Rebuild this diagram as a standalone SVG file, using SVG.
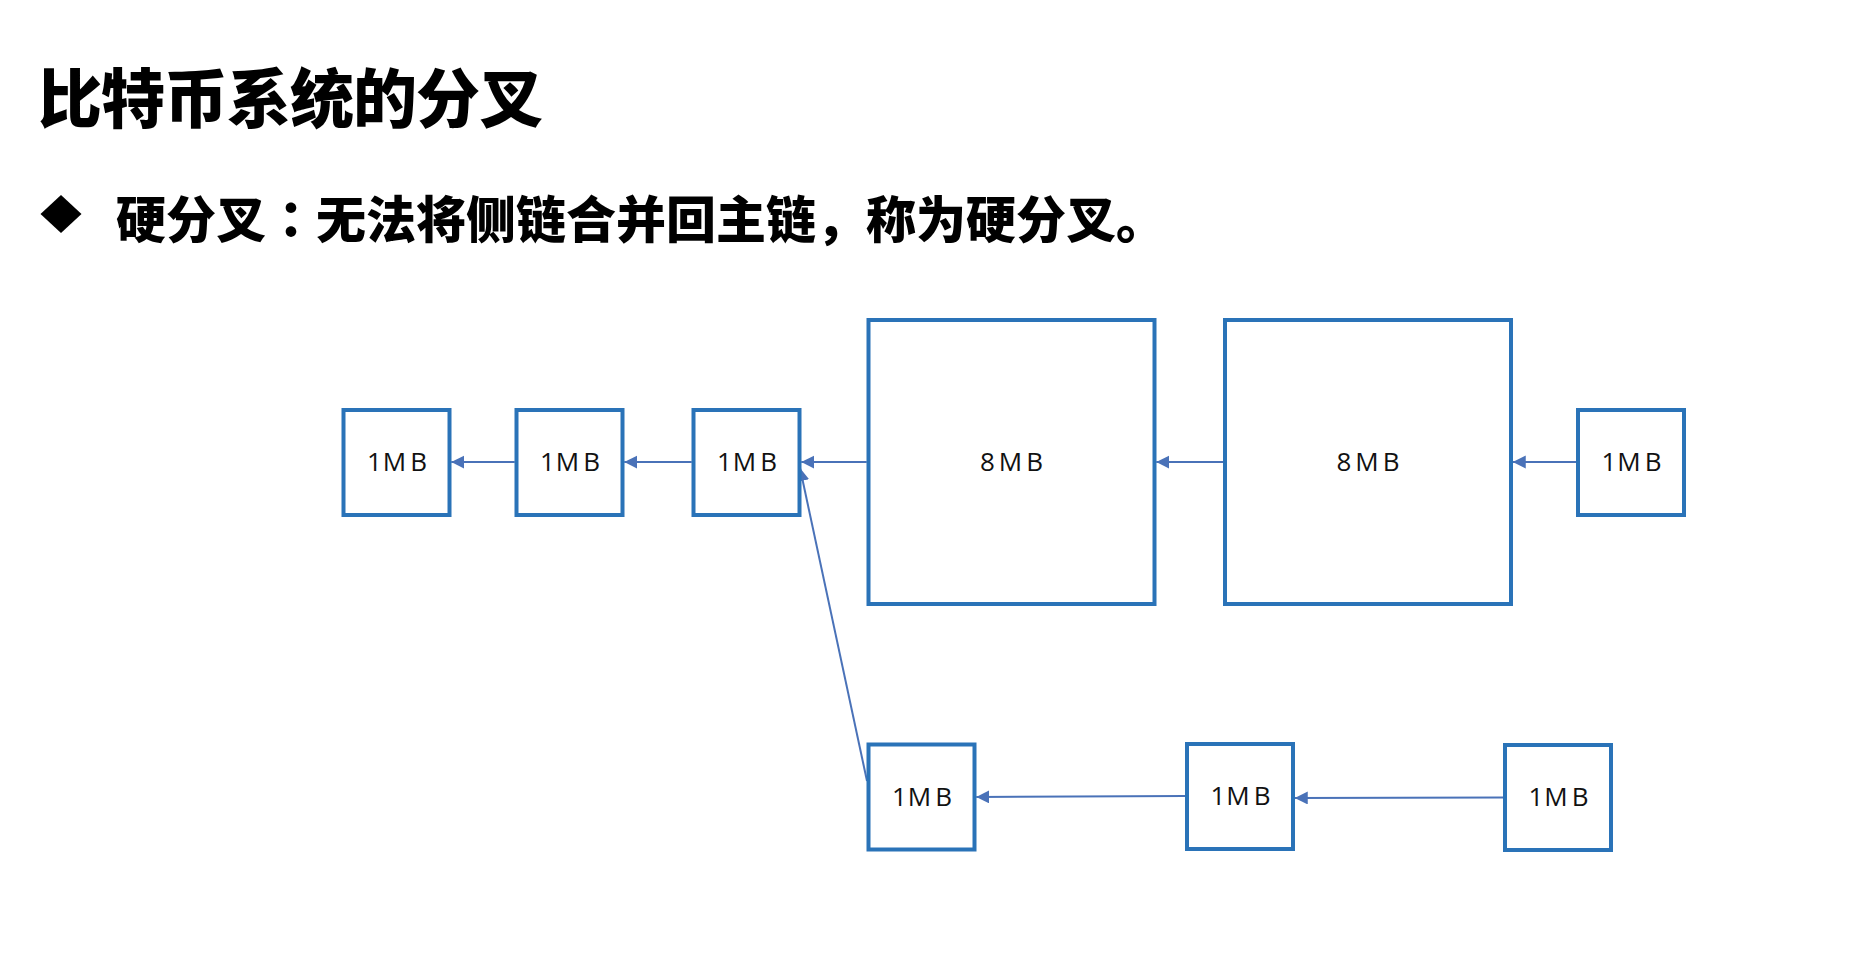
<svg xmlns="http://www.w3.org/2000/svg" width="1858" height="972" viewBox="0 0 1858 972">
  <style>
    .box { fill: #ffffff; stroke: #2a73b8; stroke-width: 4; }
    .lbl { font-family: "Open Sans", "Noto Sans", sans-serif; font-size: 26px; fill: #111111; text-anchor: middle; letter-spacing: 1px; }
    .big { letter-spacing: 4px; }
    .conn { stroke: #4a72b8; stroke-width: 2; fill: none; marker-end: url(#arr); }
    .title { font-family: "Noto Sans CJK SC", "Noto Sans", sans-serif; font-weight: 900; fill: #000000; }
  </style>
  <defs>
    <marker id="arr" markerUnits="userSpaceOnUse" markerWidth="14" markerHeight="14" refX="13" refY="6.5" orient="auto">
      <path d="M0,0 L13,6.5 L0,13 Z" fill="#4a72b8"/>
    </marker>
  </defs>
  <rect width="1858" height="972" fill="#ffffff"/>

  <g id="title">
    <text class="title" x="38" y="122" font-size="64" letter-spacing="-1">比特币系统的分叉</text>
  </g>
  <g id="subtitle">
    <path d="M61,195 L81.5,214 L61,233 L40.5,214 Z" fill="#000000"/>
    <text class="title" x="116" y="238" font-size="50" font-weight="700">硬分叉<tspan font-family="Noto Sans CJK TC, sans-serif">：</tspan>无法将侧链合并回主链，称为硬分叉。</text>
  </g>

  <g id="connectors">
    <line class="conn" x1="514.75" y1="462" x2="451.25" y2="462"/>
    <line class="conn" x1="691.75" y1="462" x2="624.25" y2="462"/>
    <line class="conn" x1="866.75" y1="462" x2="801.25" y2="462"/>
    <line class="conn" x1="1223.25" y1="462" x2="1156.25" y2="462"/>
    <line class="conn" x1="1576.25" y1="462" x2="1512.75" y2="462"/>
    <line class="conn" x1="1185.25" y1="796" x2="976.25" y2="797"/>
    <line class="conn" x1="1503.25" y1="797.5" x2="1294.75" y2="798"/>
    <line class="conn" x1="867" y1="781" x2="800" y2="468"/>
  </g>

  <g id="n1"><rect class="box" x="343.5" y="410" width="106" height="105"/><text class="lbl" x="397.5" y="471">1M<tspan dx="3">B</tspan></text></g>
  <g id="n2"><rect class="box" x="516.5" y="410" width="106" height="105"/><text class="lbl" x="570.5" y="471">1M<tspan dx="3">B</tspan></text></g>
  <g id="n3"><rect class="box" x="693.5" y="410" width="106" height="105"/><text class="lbl" x="747.5" y="471">1M<tspan dx="3">B</tspan></text></g>
  <g id="n4"><rect class="box" x="868.5" y="320" width="286" height="284"/><text class="lbl big" x="1013.5" y="471">8MB</text></g>
  <g id="n5"><rect class="box" x="1225" y="320" width="286" height="284"/><text class="lbl big" x="1370" y="471">8MB</text></g>
  <g id="n6"><rect class="box" x="1578" y="410" width="106" height="105"/><text class="lbl" x="1632" y="471">1M<tspan dx="3">B</tspan></text></g>
  <g id="n7"><rect class="box" x="868.5" y="744.5" width="106" height="105"/><text class="lbl" x="922.5" y="806">1M<tspan dx="3">B</tspan></text></g>
  <g id="n8"><rect class="box" x="1187" y="744" width="106" height="105"/><text class="lbl" x="1241" y="805">1M<tspan dx="3">B</tspan></text></g>
  <g id="n9"><rect class="box" x="1505" y="745" width="106" height="105"/><text class="lbl" x="1559" y="806">1M<tspan dx="3">B</tspan></text></g>
</svg>
